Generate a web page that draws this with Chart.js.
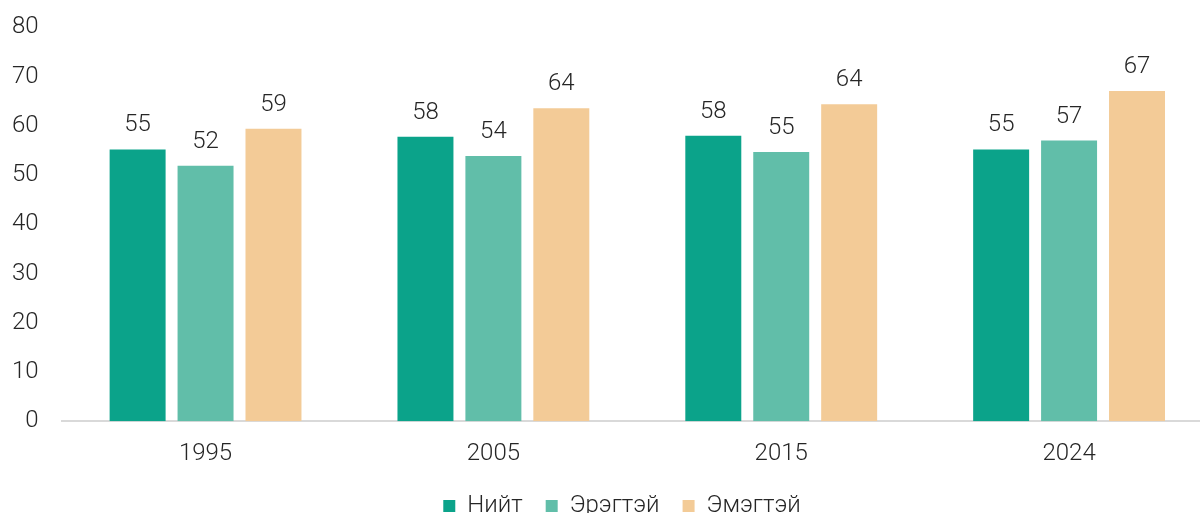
<!DOCTYPE html>
<html>
<head>
  <script src="https://cdn.jsdelivr.net/npm/chart.js"></script>
  <title>Bar chart</title>
  <style>
    html, body { margin: 0; padding: 0; background: #fff; overflow: hidden; width: 1200px; height: 513px; }
    #wrap { width: 1236px; height: 538px; margin-left: -23px; margin-top: -10px; }
  </style>
</head>
<body>
  <div id="wrap"><canvas id="chart"></canvas></div>

  <script>
    // Chart data
    const years = ['1995', '2005', '2015', '2024'];
    const total = [55.2, 57.8, 58.0, 55.2];
    const men = [51.9, 53.9, 54.7, 57.0];
    const women = [59.4, 63.6, 64.4, 67.1];
    const seriesNames = ['Нийт', 'Эрэгтэй', 'Эмэгтэй'];
    const yTicks = [0, 10, 20, 30, 40, 50, 60, 70, 80];

    const colors = ['#0ba38a', '#61bea9', '#f3cb97'];
    const textColor = '#262626';
    const fontFamily = 'Roboto, "Noto Sans", sans-serif';

    Chart.defaults.font.family = fontFamily;
    Chart.defaults.font.size = 24;
    Chart.defaults.font.weight = 300;
    Chart.defaults.color = textColor;

    // Draw rounded value above each bar
    const valueLabels = {
      id: 'valueLabels',
      afterDatasetsDraw(chart) {
        const ctx = chart.ctx;
        ctx.save();
        ctx.font = '300 24px ' + fontFamily;
        ctx.fillStyle = textColor;
        ctx.textAlign = 'center';
        ctx.textBaseline = 'alphabetic';
        chart.data.datasets.forEach((ds, i) => {
          chart.getDatasetMeta(i).data.forEach((bar, j) => {
            ctx.fillText(Math.round(ds.data[j]), bar.x, bar.y - 18);
          });
        });
        ctx.restore();
      }
    };

    // Nudge the legend to the right, centred under the plot
    const legendShift = {
      id: 'legendShift',
      afterLayout(chart) {
        if (chart.legend) {
          chart.legend.left += 21;
          chart.legend.right += 21;
        }
      }
    };

    const seriesData = [total, men, women];

    new Chart(document.getElementById('chart'), {
      type: 'bar',
      data: {
        labels: years,
        datasets: seriesData.map((d, i) => ({
          label: seriesNames[i],
          data: d,
          backgroundColor: colors[i],
          categoryPercentage: 0.708,
          barPercentage: 0.824
        }))
      },
      options: {
        responsive: true,
        maintainAspectRatio: false,
        animation: false,
        layout: { padding: { left: 12, top: 0, right: 0, bottom: 0 } },
        plugins: {
          tooltip: { enabled: false },
          legend: {
            position: 'bottom',
            labels: {
              boxWidth: 12,
              boxHeight: 12,
              padding: 23,
              color: textColor,
              font: { size: 24, weight: 300 }
            }
          }
        },
        scales: {
          x: {
            grid: { display: false, drawTicks: false },
            border: { color: '#d9d9d9', width: 2 },
            ticks: { padding: 18, color: textColor },
            afterFit(scale) {
              // pull the legend closer to the year labels
              scale.height -= 15;
            }
          },
          y: {
            min: 0,
            max: 80,
            afterBuildTicks(axis) {
              axis.ticks = yTicks.map(v => ({ value: v }));
            },
            grid: { display: false, drawTicks: false },
            border: { display: false },
            ticks: { padding: 23, color: textColor }
          }
        }
      },
      plugins: [valueLabels, legendShift]
    });
  </script>
</body>
</html>
